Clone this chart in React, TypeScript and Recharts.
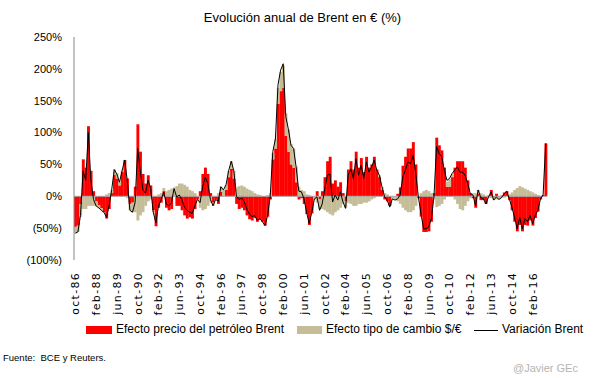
import React from 'react';
import { ComposedChart, Bar, Line, XAxis, YAxis, ReferenceLine } from 'recharts';

const MONTHS = ['ene', 'feb', 'mar', 'abr', 'may', 'jun', 'jul', 'ago', 'sep', 'oct', 'nov', 'dic'];
const START_YEAR = 1986;
const START_MONTH = 9; // octubre
const STEP_MONTHS = 2;

// Efecto precio del petróleo Brent (%)
const priceEffect = [
  -48, -46, -12, 58, 45, 110, 40, 8, -8, -14,
  -19, -25, -35, -20, 5, 34, 28, 17, 38, 57,
  28, -12, -10, 15, 113, 70, 35, 20, 33, 17,
  -22, -47, -18, -10, 8, -18, -22, -20, 0, -15,
  -15, -22, -30, -35, -33, -35, -20, -5, 8, 35,
  45, 35, 5, -10, -5, -12, 7, 0, 10, 30,
  43, 28, -12, -20, -18, -22, -30, -36, -38, -34,
  -40, -37, -40, -46, -32, -5, 58, 75, 145, 165,
  170, 95, 70, 50, 45, 22, -5, -3, -12, -28,
  -45, -27, 0, 8, -5, 8, 30, 55, 62, 20,
  25, 15, 22, 5, -8, 42, 55, 42, 70, 45,
  60, 38, 62, 45, 50, 62, 42, 30, 10, -5,
  -8, -15, 0, 0, 4, 14, 48, 62, 75, 75,
  85, 50, -3, -32, -56, -56, -55, -40, 5, 92,
  80, 72, 45, 15, 15, 30, 45, 55, 55, 55,
  45, 25, 5, -3, -18, 4, -6, -6, -12, 1,
  10, -2, 4, -1, 1, 6, 8, -6, -22, -40,
  -55, -45, -55, -45, -46, -38, -46, -34, -24, -5,
  2, 83,
];

// Efecto tipo de cambio $/€ (%)
const fxEffect = [
  -10, -10, -20, -20, -20, -15, -15, -15, -8, -5,
  -3, 0, 3, 5, 5, 8, 8, 5, 3, 0,
  -3, -10, -15, -25, -38, -30, -25, -15, -8, -5,
  -3, 0, 3, 5, 5, 8, 10, 12, 14, 16,
  20, 20, 18, 15, 10, 8, 5, 0, -18, -22,
  -20, -15, -10, -5, 0, 5, 8, 10, 8, 10,
  12, 12, 14, 16, 17, 15, 12, 10, 8, 5,
  3, 2, 0, 0, 2, 5, 10, 15, 25, 30,
  35, 35, 35, 32, 30, 25, 15, 10, 8, 3,
  2, 0, -5, -10, -15, -20, -22, -25, -28, -30,
  -25, -22, -18, -12, -10, -10, -12, -15, -15, -12,
  -12, -10, -10, -8, -5, -3, 0, 3, 5, 5,
  3, 0, -3, -5, -8, -12, -18, -22, -25, -25,
  -22, -15, 0, 5, 8, 10, 8, 5, -5, -17,
  -15, -12, -5, 8, 12, 5, -5, -12, -20, -22,
  -15, -8, -3, 5, 5, 6, 5, 3, 0, -2,
  -3, -4, -5, -4, -3, -2, 0, 3, 6, 10,
  13, 16, 14, 12, 10, 8, 6, 4, 2, 1,
  0, 0,
];

// Variación Brent (%)
const variation = [
  -58, -56, -30, 40, 25, 100, 25, -5, -15, -18,
  -22, -25, -33, -15, 10, 42, 35, 22, 40, 57,
  25, -22, -25, -10, 75, 40, 10, 5, 25, 12,
  -25, -42, -15, -6, 7, -12, -15, -10, 12, -1,
  2, -5, -17, -22, -25, -27, -15, -5, -10, 15,
  30, 20, -5, -15, -5, -8, 15, 10, 18, 40,
  55, 40, 0, -5, -3, -8, -20, -28, -32, -30,
  -38, -35, -40, -46, -30, 0, 70, 90, 175, 198,
  208, 125, 105, 80, 75, 45, 8, 7, -4, -25,
  -43, -25, -4, -1, -22, -12, 12, 33, 35, -9,
  2, -6, 7, -9, -19, 33, 43, 28, 59, 33,
  49, 28, 54, 38, 46, 57, 41, 33, 15, -1,
  -6, -17, -4, -6, -4, 2, 30, 41, 54, 51,
  64, 36, -1, -27, -51, -51, -48, -35, -1, 78,
  67, 62, 41, 25, 28, 36, 41, 46, 38, 38,
  33, 20, 4, 2, -15, 10, -2, -4, -12, -1,
  7, -6, -1, -5, -2, 4, 8, -4, -17, -33,
  -51, -33, -51, -35, -40, -30, -43, -30, -22, -4,
  2, 83,
];

const tickLabels = [
  'oct-86', 'feb-88', 'jun-89', 'oct-90', 'feb-92', 'jun-93', 'oct-94', 'feb-96',
  'jun-97', 'oct-98', 'feb-00', 'jun-01', 'oct-02', 'feb-04', 'jun-05', 'oct-06',
  'feb-08', 'jun-09', 'oct-10', 'feb-12', 'jun-13', 'oct-14', 'feb-16',
];

const yTicks = [-100, -50, 0, 50, 100, 150, 200, 250];

const categories = priceEffect.map((_, i) => {
  const m = START_MONTH + i * STEP_MONTHS;
  const y = START_YEAR + Math.floor(m / 12);
  return `${MONTHS[m % 12]}-${String(y % 100).padStart(2, '0')}`;
});

const data = categories.map((c, i) => ({
  date: c,
  price: priceEffect[i],
  fx: fxEffect[i],
  total: variation[i],
}));

const fmtPct = (v: number) => (v < 0 ? `(${-v}%)` : `${v}%`);

const XTick = (props: any) => {
  const { x, y, payload } = props;
  return (
    <text
      x={0}
      y={0}
      transform={`translate(${x},${y + 10}) rotate(-90)`}
      textAnchor="end"
      dy="0.35em"
      fontSize={11}
      fontFamily="'DejaVu Sans', sans-serif"
      letterSpacing={1.3}
      fill="#000"
    >
      {payload.value}
    </text>
  );
};

const RED = '#FF0000';
const TAN = '#C4BD97';

// Columns touch each other (gap width 0), so each one is drawn a hair wider than its band.
const makeShape = (color: string) => (props: any) => {
  const { x, y, width, height } = props;
  if (height == null || width == null || !isFinite(height) || height === 0) return <g />;
  const cx = x + width / 2;
  const top = height < 0 ? y + height : y;
  return <rect x={cx - 1.45} y={top} width={2.9} height={Math.abs(height)} fill={color} />;
};

const redShape = makeShape(RED);
const tanShape = makeShape(TAN);

export default function App() {
  const font = "'Liberation Sans', Arial, sans-serif";
  return (
    <div
      style={{
        position: 'absolute',
        left: 0,
        top: 0,
        width: 605,
        height: 378,
        background: '#fff',
        fontFamily: font,
        color: '#000',
      }}
    >
      <div
        style={{
          position: 'absolute',
          left: 0,
          top: 10,
          width: 605,
          textAlign: 'center',
          fontSize: 13,
        }}
      >
        Evolución anual de Brent en € (%)
      </div>
      <div style={{ position: 'absolute', left: 0, top: 0 }}>
        <ComposedChart
          width={605}
          height={378}
          data={data}
          stackOffset="sign"
          barCategoryGap={0}
          barGap={0}
          margin={{ top: 37, right: 58, bottom: 68, left: 0 }}
        >
          <XAxis
            dataKey="date"
            height={50}
            ticks={tickLabels}
            interval={0}
            axisLine={false}
            tickLine={false}
            tickSize={0}
            tick={<XTick />}
          />
          <YAxis
            width={74}
            domain={[-100, 250]}
            ticks={yTicks}
            interval={0}
            allowDataOverflow
            tickFormatter={fmtPct}
            tickLine={false}
            tickSize={0}
            tickMargin={12}
            axisLine={{ stroke: '#868686' }}
            tick={{ fontSize: 11, fill: '#000', fontFamily: font }}
          />
          <ReferenceLine y={0} stroke="#a6a6a6" />
          <Bar dataKey="price" stackId="a" fill={RED} shape={redShape} isAnimationActive={false} />
          <Bar dataKey="fx" stackId="a" fill={TAN} shape={tanShape} isAnimationActive={false} />
          <Line
            dataKey="total"
            type="linear"
            stroke="#000"
            strokeWidth={1}
            dot={false}
            activeDot={false}
            isAnimationActive={false}
          />
        </ComposedChart>
      </div>

      {/* Leyenda */}
      <div style={{ position: 'absolute', left: 86, top: 326, width: 26, height: 8, background: RED }} />
      <div style={{ position: 'absolute', left: 116, top: 322, fontSize: 12, whiteSpace: 'nowrap' }}>
        Efecto precio del petróleo Brent
      </div>
      <div style={{ position: 'absolute', left: 297, top: 326, width: 25, height: 8, background: TAN }} />
      <div style={{ position: 'absolute', left: 326, top: 322, fontSize: 12, whiteSpace: 'nowrap' }}>
        Efecto tipo de cambio $/€
      </div>
      <div style={{ position: 'absolute', left: 474, top: 330, width: 24, height: 1, background: '#000' }} />
      <div style={{ position: 'absolute', left: 502, top: 322, fontSize: 12, whiteSpace: 'nowrap' }}>
        Variación Brent
      </div>

      <div style={{ position: 'absolute', left: 3, top: 352, fontSize: 9.5, whiteSpace: 'nowrap' }}>
        Fuente:&nbsp; BCE y Reuters.
      </div>
      <div style={{ position: 'absolute', left: 513, top: 362, fontSize: 11, color: '#b4b4b4', whiteSpace: 'nowrap' }}>
        @Javier GEc
      </div>
    </div>
  );
}
